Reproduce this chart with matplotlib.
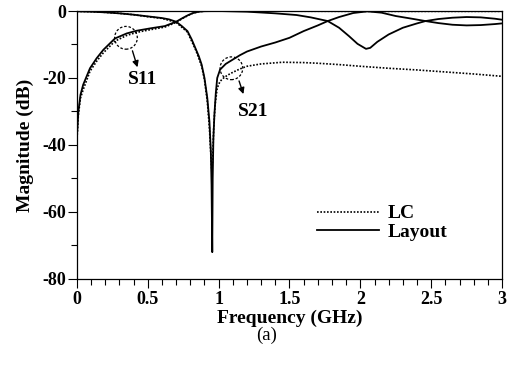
import matplotlib.pyplot as plt
from matplotlib.patches import Ellipse

plt.rcParams['font.family'] = ['Liberation Serif', 'DejaVu Serif']
plt.rcParams['font.weight'] = 'bold'
plt.rcParams['axes.unicode_minus'] = False

# S21, layout (solid)
f_s21_lay = [0.0, 0.1, 0.2, 0.3, 0.4, 0.5, 0.6, 0.65, 0.7, 0.74, 0.78, 0.81, 0.84, 0.86,
             0.88, 0.9, 0.92, 0.935, 0.945, 0.95, 0.955, 0.958, 0.963, 0.97, 0.98, 0.99,
             1.01, 1.05, 1.1, 1.15, 1.2, 1.3, 1.4, 1.5, 1.6, 1.7, 1.77, 1.85, 1.95, 2.05,
             2.15, 2.25, 2.35, 2.46, 2.55, 2.65, 2.75, 2.85, 2.95, 3.0]
s21_lay = [-0.1, -0.2, -0.4, -0.7, -1.1, -1.6, -2.1, -2.5, -3.2, -4.5, -6.0, -8.5, -11.5, -13.5,
           -16.0, -20.0, -26.0, -33.0, -42.0, -52.0, -72.0, -50.0, -38.0, -31.0, -24.5, -20.0,
           -17.5, -15.8, -14.5, -13.2, -12.1, -10.6, -9.4, -8.0, -6.0, -4.3, -3.0, -1.8, -0.6, -0.1,
           -0.5, -1.5, -2.2, -3.0, -3.6, -4.1, -4.3, -4.2, -3.9, -3.7]

# S21, LC model (dotted)
f_s21_lc = [0.0, 0.1, 0.2, 0.3, 0.4, 0.5, 0.6, 0.7, 0.78, 0.84, 0.88, 0.9, 0.92, 0.935, 0.945,
            0.952, 0.958, 0.965, 0.975, 0.99, 1.01, 1.04, 1.07, 1.1, 1.15, 1.2, 1.3, 1.45, 1.6,
            1.7, 1.85, 2.0, 2.2, 2.4, 2.6, 2.8, 3.0]
s21_lc = [-0.1, -0.2, -0.4, -0.7, -1.1, -1.7, -2.2, -3.4, -6.3, -11.8, -16.5, -20.5, -27.0, -35.0,
          -43.0, -48.0, -44.0, -35.0, -28.0, -23.0, -21.0, -19.8, -19.0, -18.3, -17.3, -16.5,
          -15.8, -15.3, -15.4, -15.6, -16.0, -16.5, -17.1, -17.6, -18.2, -18.8, -19.5]

# S11, layout (solid)
f_s11_lay = [0.002, 0.01, 0.025, 0.044, 0.092, 0.139, 0.186, 0.268, 0.351, 0.42, 0.515, 0.62,
             0.7, 0.75, 0.786, 0.82, 0.86, 0.9, 1.0, 1.2, 1.4, 1.55, 1.65, 1.77, 1.85, 1.92,
             1.98, 2.04, 2.07, 2.12, 2.2, 2.3, 2.4, 2.46, 2.55, 2.65, 2.75, 2.85, 2.95, 3.0]
s11_lay = [-36.0, -30.0, -25.0, -22.0, -17.1, -14.1, -11.6, -8.2, -6.7, -5.9, -5.2, -4.5,
           -3.2, -2.0, -1.2, -0.6, -0.2, -0.05, 0.0, -0.2, -0.7, -1.2, -1.9, -3.0, -5.0, -7.5,
           -9.8, -11.3, -11.0, -9.2, -7.0, -5.0, -3.7, -3.0, -2.4, -2.0, -1.8, -1.9, -2.3, -2.6]

# S11, LC model (dotted)
f_s11_lc = [0.002, 0.01, 0.025, 0.044, 0.092, 0.139, 0.186, 0.268, 0.351, 0.42, 0.515, 0.62,
            0.7, 0.75, 0.786, 0.82, 0.86, 0.9, 1.0, 2.0, 3.0]
s11_lc = [-37.0, -31.0, -26.0, -23.5, -18.0, -15.0, -12.5, -9.0, -7.3, -6.4, -5.6, -4.8,
          -3.4, -2.1, -1.3, -0.6, -0.2, -0.05, 0.0, -0.1, -0.1]

fig = plt.figure(figsize=(5.13, 3.67), dpi=100)
ax = fig.add_axes([0.150, 0.240, 0.8286, 0.730])

ax.plot(f_s21_lc, s21_lc, color='black', lw=1.2, ls=(0, (1, 1)), label='LC')
ax.plot(f_s11_lc, s11_lc, color='black', lw=1.2, ls=(0, (1, 1)))
ax.plot(f_s21_lay, s21_lay, color='black', lw=1.3, label='Layout')
ax.plot(f_s11_lay, s11_lay, color='black', lw=1.3)

ax.set_xlim(0, 3)
ax.set_ylim(-80, 0)
ax.set_xticks([0, 0.5, 1, 1.5, 2, 2.5, 3])
ax.set_xticklabels(['0', '0.5', '1', '1.5', '2', '2.5', '3'])
ax.set_xticks([i / 10 for i in range(31)], minor=True)
ax.set_yticks([-80, -60, -40, -20, 0])
ax.set_yticks([-70, -50, -30, -10], minor=True)
ax.tick_params(which='major', direction='out', length=6.5, width=0.8, labelsize=13, pad=1.5)
ax.tick_params(which='minor', direction='out', length=4.5, width=0.8)
ax.tick_params(axis='x', pad=2)
for s in ax.spines.values():
    s.set_linewidth(0.9)

# dashed circles and arrows
ax.add_patch(Ellipse((0.346, -8.0), 0.16, 6.8, fill=False, ls=(0, (2, 1.5)), lw=0.9))
ax.add_patch(Ellipse((1.09, -17.1), 0.16, 6.8, fill=False, ls=(0, (2, 1.5)), lw=0.9))
ax.annotate('', xy=(0.433, -17.6), xytext=(0.386, -11.1),
            arrowprops=dict(arrowstyle='-|>', color='black', lw=1, mutation_scale=9))
ax.annotate('', xy=(1.181, -25.6), xytext=(1.138, -20.1),
            arrowprops=dict(arrowstyle='-|>', color='black', lw=1, mutation_scale=9))
ax.text(0.46, -20.5, 'S11', fontsize=14, ha='center', va='center')
ax.text(1.245, -30.0, 'S21', fontsize=14, ha='center', va='center')

ax.legend(loc='center left', bbox_to_anchor=(0.541, 0.209), frameon=False, fontsize=14,
          handlelength=3.2, handletextpad=0.45, borderpad=0, labelspacing=0.05)

fig.text(0.565, 0.155, 'Frequency (GHz)', fontsize=14, ha='center', va='top')
fig.text(0.049, 0.605, 'Magnitude (dB)', fontsize=14, ha='center', va='center', rotation=90)
fig.text(0.52, 0.086, '(a)', fontsize=13.5, fontweight='normal', ha='center', va='center')

fig.savefig('out.png', dpi=100)
